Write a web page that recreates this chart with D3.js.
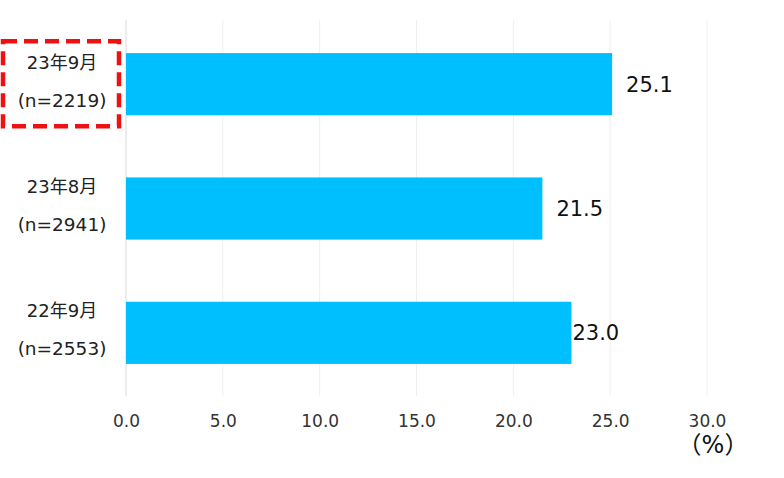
<!DOCTYPE html>
<html><head><meta charset="utf-8">
<script src="https://cdn.jsdelivr.net/npm/d3@7"></script>
<style>body{margin:0;background:#fff;}svg{display:block;}</style>
</head><body>
<svg id="c" width="784" height="478"></svg>
<script>
const categories = ["23年9月", "23年8月", "22年9月"];
const sampleSizes = ["(n=2219)", "(n=2941)", "(n=2553)"];
const values = [25.1, 21.5, 23.0];
const tickValues = [0, 5, 10, 15, 20, 25, 30];
const unitLabel = "（%）";

const svg = d3.select("#c");
const font = "'DejaVu Sans', 'Noto Sans CJK JP', sans-serif";
const x = d3.scaleLinear().domain([0, 30]).range([126, 707]);
const y = d3.scaleBand().domain(categories).range([22, 395]).paddingInner(0.5).paddingOuter(0.25);

// grid
svg.append("g").selectAll("line").data(tickValues).join("line")
  .attr("x1", d => x(d)).attr("x2", d => x(d))
  .attr("y1", 20).attr("y2", 396)
  .attr("stroke", d => d === 0 ? "#d9d9d9" : "#efefef").attr("stroke-width", 1);

// bars
svg.append("g").selectAll("rect").data(values).join("rect")
  .attr("x", x(0)).attr("y", (d, i) => y(categories[i]))
  .attr("width", d => x(d) - x(0)).attr("height", y.bandwidth())
  .attr("fill", "#00BFFF");

// value labels
const labelOffsets = [14, 14, 1];
svg.append("g").selectAll("text").data(values).join("text")
  .attr("x", (d, i) => x(d) + labelOffsets[i])
  .attr("y", (d, i) => y(categories[i]) + y.bandwidth() / 2)
  .attr("dy", "0.36em")
  .attr("font-family", font).attr("font-size", 21).attr("fill", "#111")
  .text(d => d.toFixed(1));

// x axis tick labels
const ax = d3.axisBottom(x).tickValues(tickValues).tickSize(0).tickFormat(d => d.toFixed(1));
const axg = svg.append("g").attr("transform", "translate(0,412)").call(ax);
axg.select(".domain").remove();
axg.selectAll("text").attr("font-family", font).attr("font-size", 17).attr("fill", "#333");

// unit
svg.append("text").attr("x", x(30) + 6).attr("y", 453).attr("text-anchor", "middle")
  .attr("font-family", font).attr("font-size", 24).attr("fill", "#111").text(unitLabel);

// category labels
const cg = svg.append("g");
categories.forEach((c, i) => {
  const cy = y(c) + y.bandwidth() / 2;
  cg.append("text").attr("x", 62).attr("y", cy - 22).attr("dy", "0.36em").attr("text-anchor", "middle")
    .attr("font-family", font).attr("font-size", 18).attr("fill", "#222").text(c);
  cg.append("text").attr("x", 62).attr("y", cy + 16).attr("dy", "0.36em").attr("text-anchor", "middle")
    .attr("font-family", font).attr("font-size", 18.5).attr("fill", "#222").text(sampleSizes[i]);
});

// highlight box
const hb = y(categories[0]) + y.bandwidth() / 2;
svg.append("rect").attr("x", 3).attr("y", hb - 43).attr("width", 116).attr("height", 85)
  .attr("fill", "none").attr("stroke", "#EE1111").attr("stroke-width", 4.5)
  .attr("stroke-dasharray", "14,7");
</script>
</body></html>
